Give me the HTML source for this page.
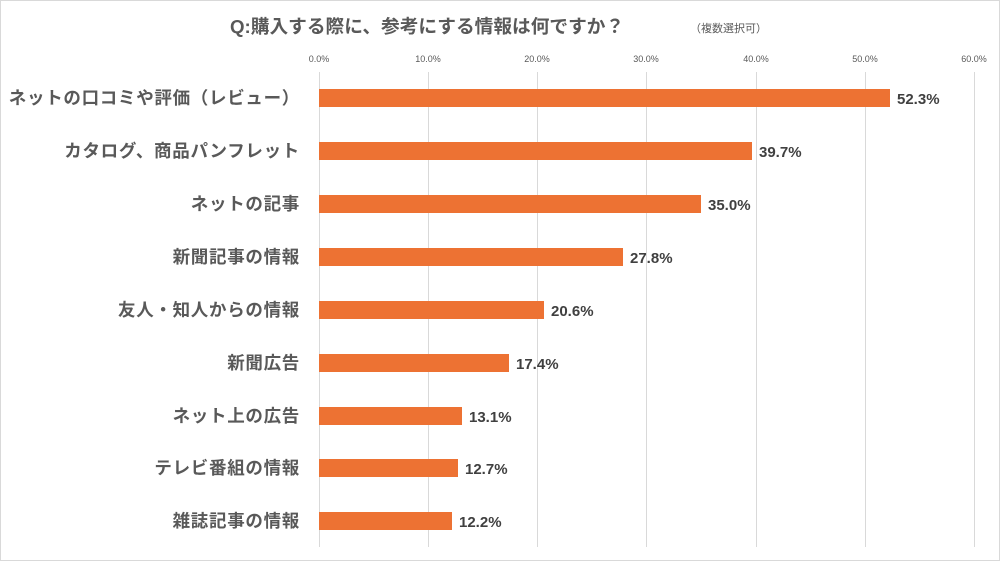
<!DOCTYPE html><html><head><meta charset="utf-8"><style>
body{margin:0;background:#fff}
svg{display:block}
text{font-family:"Liberation Sans","Noto Sans CJK JP",sans-serif}
</style></head><body>
<svg width="1000" height="561" xmlns="http://www.w3.org/2000/svg">
<rect x="0.5" y="0.5" width="999" height="560" fill="#fff" stroke="#d9d9d9"/>
<text x="230" y="33" font-size="18.7" font-weight="bold" fill="#595959">Q:購入する際に、参考にする情報は何ですか？</text>
<text x="690" y="32" font-size="11" fill="#595959">（複数選択可）</text>
<g stroke="#d9d9d9" stroke-width="1">
<line x1="319.5" y1="72" x2="319.5" y2="547"/><line x1="428.5" y1="72" x2="428.5" y2="547"/>
<line x1="537.5" y1="72" x2="537.5" y2="547"/><line x1="646.5" y1="72" x2="646.5" y2="547"/>
<line x1="756.5" y1="72" x2="756.5" y2="547"/><line x1="865.5" y1="72" x2="865.5" y2="547"/>
<line x1="974.5" y1="72" x2="974.5" y2="547"/>
</g>
<g font-size="9" fill="#595959" text-anchor="middle">
<text x="319" y="62">0.0%</text><text x="428" y="62">10.0%</text><text x="537" y="62">20.0%</text><text x="646" y="62">30.0%</text><text x="756" y="62">40.0%</text><text x="865" y="62">50.0%</text><text x="974" y="62">60.0%</text>
</g>
<g fill="#ed7233">
<rect x="319" y="89" width="571" height="18"/>
<rect x="319" y="142" width="433" height="18"/>
<rect x="319" y="195" width="382" height="18"/>
<rect x="319" y="248" width="304" height="18"/>
<rect x="319" y="301" width="225" height="18"/>
<rect x="319" y="354" width="190" height="18"/>
<rect x="319" y="407" width="143" height="18"/>
<rect x="319" y="459" width="139" height="18"/>
<rect x="319" y="512" width="133" height="18"/>
</g>
<g font-size="15" font-weight="bold" fill="#404040">
<text x="897" y="104">52.3%</text><text x="759" y="157">39.7%</text><text x="708" y="210">35.0%</text>
<text x="630" y="263">27.8%</text><text x="551" y="316">20.6%</text><text x="516" y="369">17.4%</text>
<text x="469" y="422">13.1%</text><text x="465" y="474">12.7%</text><text x="459" y="527">12.2%</text>
</g>
<g font-size="17.5" font-weight="bold" fill="#595959" text-anchor="end" letter-spacing="0.7">
<text x="300" y="104">ネットの口コミや評価（レビュー）</text>
<text x="300" y="157">カタログ、商品パンフレット</text>
<text x="300" y="210">ネットの記事</text>
<text x="300" y="263">新聞記事の情報</text>
<text x="300" y="316">友人・知人からの情報</text>
<text x="300" y="369">新聞広告</text>
<text x="300" y="422">ネット上の広告</text>
<text x="300" y="474">テレビ番組の情報</text>
<text x="300" y="527">雑誌記事の情報</text>
</g>
</svg>
</body></html>
